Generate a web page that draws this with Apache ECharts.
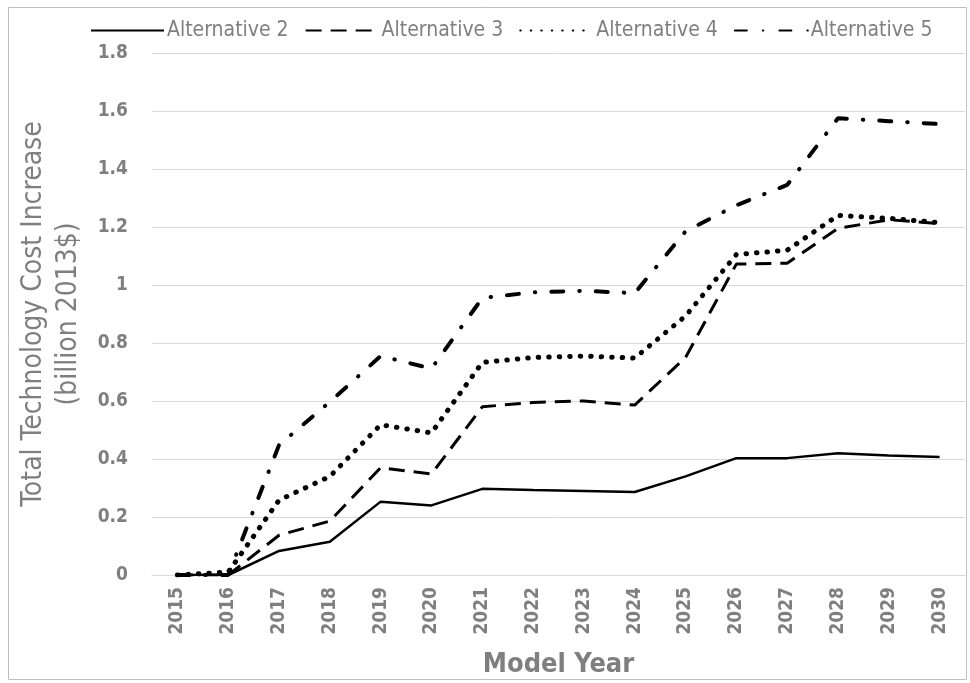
<!DOCTYPE html>
<html>
<head>
<meta charset="utf-8">
<script src="https://cdn.jsdelivr.net/npm/echarts@6/dist/echarts.min.js"></script>
<style>
  html, body { margin: 0; padding: 0; background: #fff; }
  #chart { width: 970px; height: 683px; }
</style>
</head>
<body>
<div id="chart"></div>
<script>
const years = ['2015', '2016', '2017', '2018', '2019', '2020', '2021', '2022',
  '2023', '2024', '2025', '2026', '2027', '2028', '2029', '2030'];
const alt2 = [0, 0, 0.083, 0.115, 0.253, 0.24, 0.297, 0.293, 0.29, 0.286, 0.34, 0.403, 0.403, 0.42, 0.412, 0.407];
const alt3 = [0, 0, 0.137, 0.186, 0.37, 0.348, 0.58, 0.595, 0.6, 0.586, 0.75, 1.072, 1.075, 1.195, 1.225, 1.212];
const alt4 = [0, 0.01, 0.258, 0.34, 0.518, 0.49, 0.733, 0.75, 0.755, 0.748, 0.893, 1.105, 1.12, 1.24, 1.23, 1.215];
const alt5 = [0, 0, 0.448, 0.597, 0.755, 0.712, 0.955, 0.975, 0.98, 0.972, 1.185, 1.275, 1.345, 1.575, 1.565, 1.555];
const yTicks = { min: 0, max: 1.8, interval: 0.2 };

const FONT = '"DejaVu Sans Condensed", "Liberation Sans", sans-serif';
const GRAY = '#7f7f7f';

const chart = echarts.init(document.getElementById('chart'));

function line(name, data, style) {
  return {
    name, type: 'line', data, symbol: 'none', smooth: false,
    lineStyle: Object.assign({ color: '#000' }, style),
    itemStyle: { color: '#000' }
  };
}

chart.setOption({
  animation: false,
  backgroundColor: '#fff',
  graphic: [{
    type: 'rect', left: 6, top: 5,
    shape: { width: 958, height: 672 },
    style: { fill: 'none', stroke: '#bfbfbf', lineWidth: 1 }
  }],
  legend: {
    top: 15, left: 85, itemWidth: 73, itemHeight: 12, itemGap: 16,
    itemStyle: { opacity: 0 },
    textStyle: { fontFamily: FONT, fontSize: 21, color: GRAY, padding: [0, 0, 0, -2] },
    data: ['Alternative 2', 'Alternative 3', 'Alternative 4', 'Alternative 5']
  },
  grid: { left: 152, right: 5, top: 53, bottom: 105 },
  xAxis: {
    type: 'category', data: years, boundaryGap: true,
    name: 'Model Year', nameLocation: 'middle', nameGap: 76,
    nameTextStyle: { fontFamily: FONT, fontSize: 27, fontWeight: 'bold', color: GRAY },
    axisLine: { lineStyle: { color: '#d9d9d9', width: 1 } },
    axisTick: { show: false },
    axisLabel: { rotate: 90, fontFamily: FONT, fontSize: 19, fontWeight: 'bold', color: GRAY, margin: 12 }
  },
  yAxis: {
    type: 'value', min: yTicks.min, max: yTicks.max, interval: yTicks.interval,
    name: 'Total Technology Cost Increase\n(billion 2013$)',
    nameLocation: 'middle', nameGap: 66, nameRotate: 90,
    nameTextStyle: { fontFamily: FONT, fontSize: 28, color: GRAY, lineHeight: 35 },
    axisLine: { show: false }, axisTick: { show: false },
    splitLine: { lineStyle: { color: '#d9d9d9', width: 1 } },
    axisLabel: {
      fontFamily: FONT, fontSize: 19, fontWeight: 'bold', color: GRAY, margin: 24,
      formatter: v => String(Math.round(v * 10) / 10)
    }
  },
  series: [
    line('Alternative 2', alt2, { width: 2.5, type: 'solid' }),
    line('Alternative 3', alt3, { width: 3, type: [16, 9] }),
    line('Alternative 4', alt4, { width: 5, type: [0.5, 10], cap: 'round' }),
    line('Alternative 5', alt5, { width: 4, type: [12, 16, 0.5, 16], cap: 'round' })
  ]
});
</script>
</body>
</html>
